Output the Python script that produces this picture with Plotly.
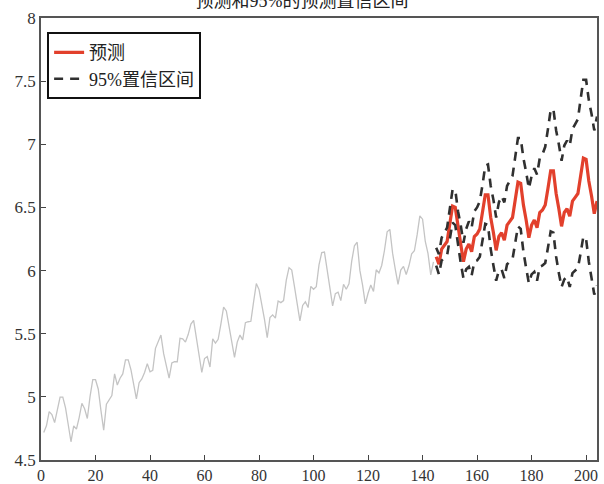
import math
import plotly.graph_objects as go

# Historical series (log of monthly values), months 1..144
hist_raw = [112,118,132,129,121,135,148,148,136,119,104,118,
            115,126,141,135,125,149,170,170,158,133,114,140,
            145,150,178,163,172,178,199,199,184,162,146,166,
            171,180,193,181,183,218,230,242,209,191,172,194,
            196,196,236,235,229,243,264,272,237,211,180,201,
            204,188,235,227,234,264,302,293,259,229,203,229,
            242,233,267,269,270,315,364,347,312,274,237,278,
            284,277,317,313,318,374,413,405,355,306,271,306,
            315,301,356,348,355,422,465,467,404,347,305,336,
            340,318,362,348,363,435,491,505,404,359,310,337,
            360,342,406,396,420,472,548,559,463,407,362,405,
            417,391,419,461,472,535,622,606,508,461,390,432]
hist_y = [math.log(v) for v in hist_raw]
hist_x = list(range(1, len(hist_y) + 1))

# Forecast months 145..204
fc_x = list(range(145, 205))
forecast = [6.11,6.05,6.17,6.20,6.23,6.37,6.51,6.50,6.33,6.21,6.07,6.17,
            6.21,6.15,6.27,6.29,6.33,6.46,6.60,6.60,6.42,6.30,6.16,6.27,
            6.30,6.24,6.36,6.39,6.42,6.56,6.70,6.69,6.52,6.40,6.26,6.36,
            6.40,6.34,6.46,6.48,6.52,6.65,6.79,6.79,6.61,6.49,6.35,6.46,
            6.49,6.43,6.55,6.58,6.61,6.75,6.89,6.88,6.71,6.59,6.45,6.55]
upper = [6.18,6.13,6.26,6.30,6.34,6.49,6.64,6.64,6.47,6.36,6.22,6.33,
         6.39,6.34,6.47,6.50,6.55,6.68,6.83,6.84,6.67,6.56,6.42,6.54,
         6.59,6.54,6.67,6.71,6.75,6.90,7.05,7.05,6.89,6.78,6.65,6.75,
         6.81,6.76,6.89,6.92,6.98,7.12,7.27,7.28,7.11,7.00,6.87,6.99,
         7.03,6.99,7.12,7.16,7.20,7.36,7.51,7.51,7.35,7.24,7.11,7.22]
lower = [6.04,5.97,6.08,6.10,6.12,6.25,6.38,6.36,6.19,6.06,5.94,6.01,
         6.03,5.96,6.07,6.08,6.11,6.24,6.37,6.36,6.17,6.04,5.92,6.00,
         6.01,5.94,6.05,6.07,6.09,6.22,6.35,6.33,6.15,6.02,5.90,5.97,
         5.99,5.92,6.03,6.04,6.06,6.18,6.31,6.30,6.11,5.98,5.87,5.93,
         5.95,5.87,5.98,6.00,6.02,6.14,6.27,6.25,6.07,5.94,5.81,5.88]

x_ticks = [0, 20, 40, 60, 80, 100, 120, 140, 160, 180, 200]
y_ticks = [4.5, 5, 5.5, 6, 6.5, 7, 7.5, 8]
y_tick_labels = ["4.5", "5", "5.5", "6", "6.5", "7", "7.5", "8"]

title_text = "预测和95%的预测置信区间"
font_family = "Liberation Serif, Times New Roman, Noto Sans CJK SC, serif"

fig = go.Figure()
fig.add_trace(go.Scatter(x=hist_x, y=hist_y, mode="lines",
                         line=dict(color="#c4c4c4", width=1.3),
                         showlegend=False, hoverinfo="skip"))
fig.add_trace(go.Scatter(x=fc_x, y=forecast, mode="lines", name="预测",
                         line=dict(color="#e2402c", width=3.2)))
fig.add_trace(go.Scatter(x=fc_x, y=upper, mode="lines", name="95%置信区间",
                         line=dict(color="#303030", width=2.6, dash="9px,7px")))
fig.add_trace(go.Scatter(x=fc_x, y=lower, mode="lines", name="95%置信区间",
                         line=dict(color="#303030", width=2.6, dash="9px,7px"),
                         showlegend=False))

axis_common = dict(showgrid=False, zeroline=False, ticks="inside", ticklen=5,
                   tickwidth=1.2, tickcolor="#444", showline=True,
                   linecolor="#555", linewidth=1.5, mirror=True,
                   automargin=False)

fig.update_layout(
    width=604, height=484,
    margin=dict(l=41, r=7, t=18, b=24),
    paper_bgcolor="white", plot_bgcolor="white",
    title=dict(text=title_text, x=0.5, xanchor="center", y=0.998,
               yanchor="middle", yref="container",
               font=dict(family=font_family, size=18, color="#222")),
    xaxis=dict(range=[0, 204], tickvals=x_ticks,
               tickfont=dict(family=font_family, size=16, color="#333"),
               **axis_common),
    yaxis=dict(range=[4.5, 8], tickvals=y_ticks, ticktext=y_tick_labels,
               tickfont=dict(family=font_family, size=17, color="#333"),
               **axis_common),
    legend=dict(x=0.011, y=0.968, xanchor="left", yanchor="top",
                bgcolor="white", bordercolor="#111", borderwidth=2,
                font=dict(family=font_family, size=18, color="#222"),
                tracegroupgap=0),
)

fig.write_html("out.html", config={"displayModeBar": False},
               post_script="document.body.style.margin='0';document.body.style.padding='0';")
